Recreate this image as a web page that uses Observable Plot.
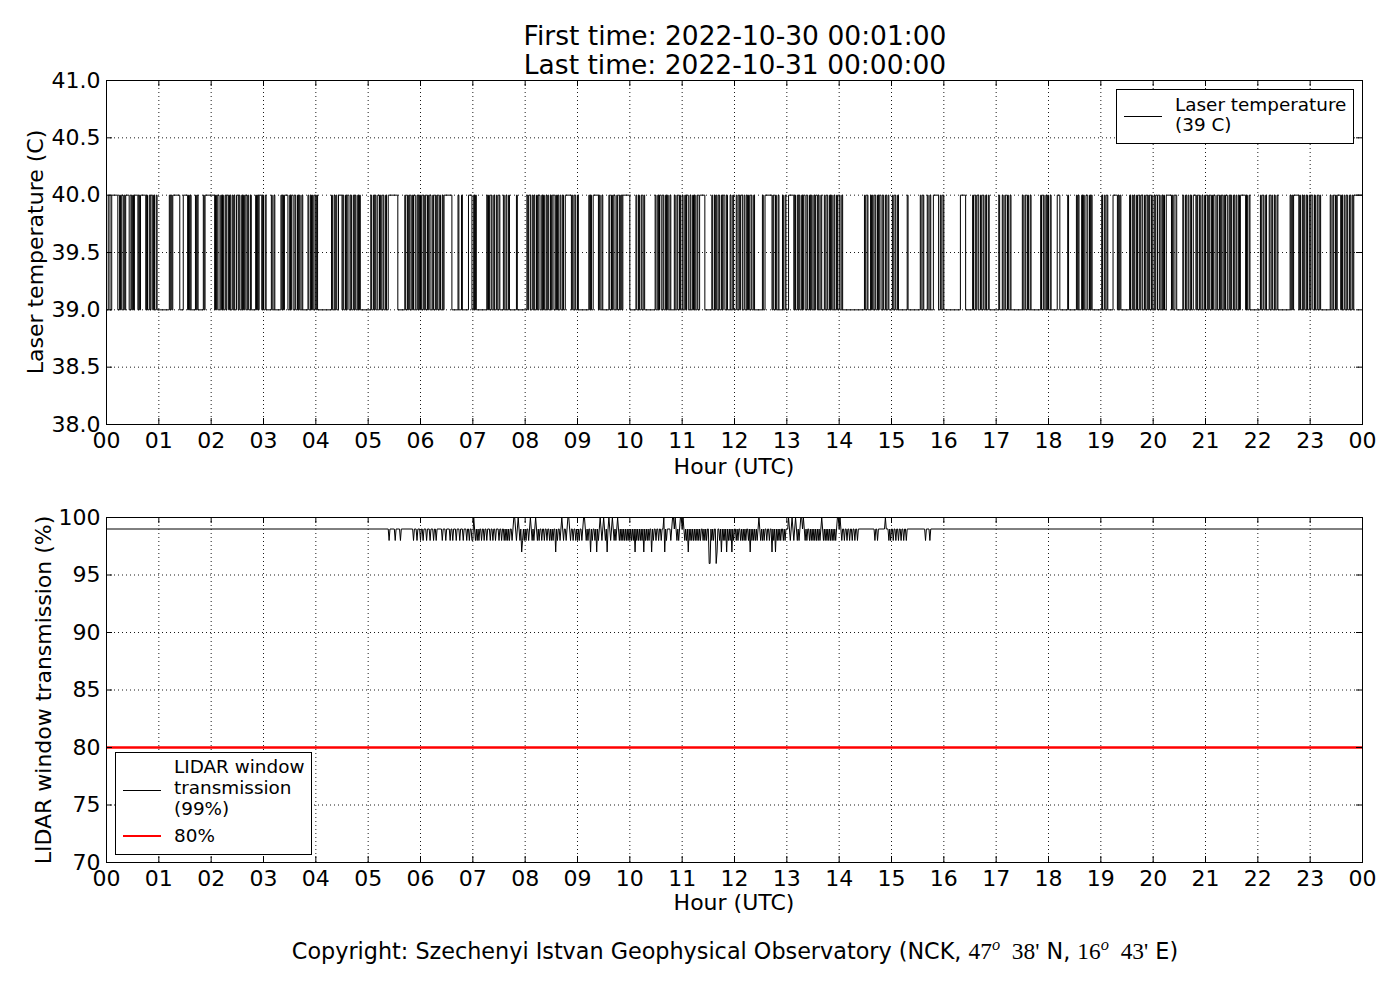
<!DOCTYPE html>
<html>
<head>
<meta charset="utf-8">
<script src="https://cdn.jsdelivr.net/npm/d3@7"></script>
<script src="https://cdn.jsdelivr.net/npm/@observablehq/plot@0.6"></script>
<style>
  body { margin: 0; background: #fff; font-family: "DejaVu Sans", sans-serif; color: #000; }
  #page { position: relative; width: 1400px; height: 1000px; overflow: hidden; background: #fff; }
  .plot { position: absolute; left: 0; }
  .c { position: absolute; white-space: nowrap; transform: translate(-50%, -50%); }
  .rot { transform: translate(-50%, -50%) rotate(-90deg); }
  .legend { position: absolute; border: 1px solid #000; background: #fff; box-sizing: border-box; font-size: 18.4px; }
  .legend .t { position: absolute; white-space: nowrap; line-height: 20px; transform: translateY(-50%); }
  .legend .s { position: absolute; height: 0; }
  .m { font-family: "Liberation Serif", "DejaVu Serif", serif; font-size: 1.05em; }
  .m sup { font-style: italic; font-size: 0.7em; }
</style>
</head>
<body>
<div id="page">
  <div id="top" class="plot" style="top:0px"></div>
  <div id="bottom" class="plot" style="top:480px"></div>
</div>
<script>
// ---------------- DATA ----------------
const firstTime = "2022-10-30 00:01:00";
const lastTime = "2022-10-31 00:00:00";
const hourTicks = [0,1,2,3,4,5,6,7,8,9,10,11,12,13,14,15,16,17,18,19,20,21,22,23,24];
const hourLabels = ["00","01","02","03","04","05","06","07","08","09","10","11","12","13","14","15","16","17","18","19","20","21","22","23","00"];
const tempTicks = [38, 38.5, 39, 39.5, 40, 40.5, 41];
const lidarTicks = [70, 75, 80, 85, 90, 95, 100];
const tempLow = 39, tempHigh = 40;     // the two levels the laser temperature toggles between
const lidarBase = 99;                  // usual LIDAR window transmission
const lidarThreshold = 80;             // red reference line

// Laser temperature: minute intervals [start, end] (minutes after 00:00) at 40 C; 39 C elsewhere
const tempHigh00to06 = [[2,4],[6,13],[15,16],[17,19],[20,21],[22,26],[28,29],[30,31],[32,36],[37,38],[39,45],
  [46,47],[49,50],[51,53],[54,55],[57,58],
  [72,73],[74,75],[76,84],[88,93],[94,95],[96,97],[102,103],[104,105],[111,112],[113,124],
  [125,126],[127,129],[131,132],[133,134],[136,137],[138,140],[141,142],[144,145],[146,147],[149,151],
  [152,153],[155,156],[157,158],[159,161],[162,163],[165,166],
  [171,172],[173,174],[175,178],[179,180],[182,183],[189,190],[192,193],
  [200,201],[202,203],[204,208],[210,211],[212,214],[216,217],[219,220],[221,222],[224,225],
  [231,232],[234,235],[236,237],[239,240],[241,242],
  [258,259],[261,262],[263,264],[266,270],[271,272],[274,275],[276,278],[280,281],[283,284],[285,286],
  [288,289],[290,291],
  [303,304],[306,307],[308,309],[311,313],[314,315],[317,318],[320,321],[323,334],
  [342,343],[345,346],[347,348],[350,351],[352,354],[356,357],[358,359]];
const tempHigh06to12 = [[360,361],[363,364],[365,366],[368,369],[370,372],[374,375],[377,378],[379,380],
  [382,383],[385,386],[387,396],[403,404],[407,408],[415,419],[421,422],[423,424],
  [436,437],[438,439],[441,442],[444,445],[447,448],[450,451],[455,456],[458,459],[461,462],[470,471],
  [482,483],[484,486],[488,489],[490,491],[493,494],[495,497],[499,500],[501,502],[504,505],[506,507],
  [509,510],[511,513],[515,516],[517,518],[520,521],[523,524],
  [526,533],[534,535],[537,538],[540,541],[553,554],[555,556],[558,564],[565,566],[568,569],
  [576,577],[579,580],[581,583],[585,586],[588,589],[590,591],[592,600],
  [607,608],[610,611],[613,614],[616,617],
  [629,630],[632,633],[634,636],[638,639],[641,642],[643,644],[646,647],
  [651,652],[654,655],[657,658],[660,661],[663,664],[665,667],[669,670],[672,673],[674,675],[677,678],[680,686],
  [694,695],[697,698],[699,700],[702,703],[705,706],[707,709],[711,712],
  [715,716],[718,719]];
const tempHigh12to18 = [[722,723],[725,726],[727,729],[731,732],[734,735],[736,737],[739,740],[742,743],
  [752,753],[755,763],[764,765],[767,768],[770,771],[775,776],[778,779],[782,788],
  [789,790],[792,793],[794,795],[797,798],[799,801],[803,804],[806,807],[808,809],[811,812],[813,815],
  [816,817],[819,820],[823,824],[826,827],[829,830],[831,832],
  [834,835],[837,838],[840,841],[843,844],
  [869,870],[872,873],[876,877],[878,879],[881,882],[884,885],[886,888],[890,891],[893,894],[896,897],
  [901,902],[904,905],[907,908],[918,919],
  [933,934],[936,937],[941,942],[944,945],[948,954],[956,957],[959,960],
  [979,985],[993,994],[996,997],[998,1000],[1002,1003],[1005,1006],[1008,1009],[1011,1012],[1023,1024],
  [1027,1028],[1030,1031],[1033,1034],[1036,1037],
  [1050,1051],[1053,1054],[1056,1057],[1059,1060],
  [1071,1072],[1074,1075],[1077,1078]];
const tempHigh18to24 = [[1079,1080],[1082,1083],[1090,1093],[1102,1103],[1112,1113],[1114,1115],
  [1118,1119],[1120,1121],[1123,1125],[1127,1128],[1129,1130],
  [1141,1142],[1144,1145],[1147,1148],[1154,1159],[1160,1161],[1162,1163],
  [1173,1174],[1176,1177],[1178,1179],[1181,1182],[1184,1185],[1186,1188],[1190,1191],[1193,1194],
  [1195,1196],[1198,1199],[1201,1202],[1203,1205],[1207,1208],[1210,1211],[1212,1213],[1215,1221],
  [1222,1223],[1225,1227],
  [1234,1235],[1237,1238],[1240,1241],[1243,1244],[1246,1249],[1250,1251],[1253,1254],[1256,1257],
  [1259,1260],[1262,1263],[1264,1265],[1267,1268],[1269,1271],[1273,1274],[1276,1277],[1278,1279],
  [1281,1282],[1283,1285],[1287,1288],[1289,1290],
  [1292,1293],[1295,1296],[1298,1299],[1300,1306],[1307,1308],[1310,1311],
  [1323,1324],[1326,1327],[1329,1330],[1333,1334],[1336,1337],[1339,1340],[1342,1343],
  [1357,1358],[1359,1360],[1361,1367],
  [1368,1369],[1371,1372],[1373,1374],[1376,1377],[1379,1380],[1381,1383],[1385,1386],[1388,1389],[1391,1392],
  [1403,1404],[1406,1407],[1409,1410],[1411,1415],[1416,1417],[1419,1420],[1422,1423],[1425,1426],
  [1428,1429],[1430,1440]];

// LIDAR window transmission: [minute, value] samples that differ from 99 %
const lidarDev05to10 = [[324,98],[331,98],[337,98],[352,98],[356,98],[360,98],[363,98],[367,98],[371,98],
  [375,98],[378,98],[385,98],[389,98],[394,98],[397,98],[401,98],[405,98],[409,98],[413,98],[416,98],
  [419,98],[420,98],[421,100],[423,98],[425,98],[427,98],[430,98],[433,98],[436,98],[440,98],[443,98],
  [446,98],[450,98],[453,98],[456,98],[458,98],[460,98],[462,98],[465,98],[467,100],[468,100],[470,98],
  [472,100],[474,98],[476,97],[477,98],[479,98],[481,98],[484,98],[486,100],[488,98],[490,98],[492,100],
  [494,98],[496,98],[499,98],[502,98],[505,98],[508,98],[510,98],[512,98],[515,97],[517,98],[520,98],
  [522,100],[524,98],[527,98],[529,100],[530,100],[532,98],[535,98],[538,98],[540,98],[542,98],[545,98],
  [547,100],[548,100],[550,98],[552,98],[555,97],[557,98],[560,98],[562,97],[564,98],[566,100],[568,98],
  [570,100],[572,98],[574,97],[576,100],[578,98],[580,100],[582,98],[584,98],[586,100],[588,98],[590,98],
  [592,98],[594,98],[596,98],[598,98]];
const lidarDev10to16 = [[600,98],[602,98],[604,98],[606,97],[608,98],[610,98],[612,98],[614,98],[616,97],
  [618,98],[620,98],[622,98],[625,97],[627,98],[630,98],[633,98],[636,98],[639,100],[640,97],[642,98],
  [647,98],[649,100],[650,100],[652,100],[654,98],[656,98],[658,100],[659,100],[661,100],[663,98],
  [665,98],[667,97],[669,98],[671,98],[673,98],[675,98],[677,98],[679,98],[681,98],[684,98],[686,98],
  [688,98],[691,96],[692,96],[694,98],[696,98],[699,96],[700,97],[703,98],[705,97],[707,98],[709,98],
  [711,97],[713,98],[715,98],[717,97],[719,98],[722,98],[724,98],[727,98],[729,98],[731,98],[733,98],
  [736,98],[738,97],[740,98],[742,98],[744,98],[746,98],[748,100],[750,98],[752,98],[754,98],[757,98],
  [760,98],[763,97],[765,98],[767,97],[769,98],[771,98],[773,98],[776,98],[778,98],[782,100],[784,98],
  [786,100],[788,98],[790,100],[792,98],[794,98],[796,100],[797,100],[799,100],[801,98],[803,98],
  [806,98],[808,98],[810,98],[812,98],[814,98],[816,98],[818,98],[820,100],[822,98],[824,98],[826,98],
  [828,98],[830,98],[832,98],[834,98],[836,98],[838,100],[839,100],[841,100],[843,98],[846,98],[849,98],
  [852,98],[855,98],[858,98],[861,98],[881,98],[884,98],[893,100],[897,98],[899,98],[902,98],[905,98],
  [908,98],[911,98],[914,98],[917,98],[939,98],[944,98]];

// ---------------- DECODE ----------------
const firstMinute = 1, lastMinute = 1440;
const highs = [...tempHigh00to06, ...tempHigh06to12, ...tempHigh12to18, ...tempHigh18to24].sort((a,b)=>a[0]-b[0]);
const tempPts = [{t: firstMinute, v: tempLow}];
for (const [a, b] of highs) { tempPts.push({t: a, v: tempHigh}); tempPts.push({t: b, v: tempLow}); }
if (tempPts[tempPts.length-1].t < lastMinute) tempPts.push({t: lastMinute, v: tempLow});

const devs = [...lidarDev05to10, ...lidarDev10to16].sort((a,b)=>a[0]-b[0]);
const lidarPts = [{t: firstMinute, v: lidarBase}];
devs.forEach(([m, v], i) => {
  const last = lidarPts[lidarPts.length-1];
  if (last.t < m - 1) lidarPts.push({t: m - 1, v: lidarBase});
  lidarPts.push({t: m, v});
  const nx = devs[i+1];
  if (!nx || nx[0] > m + 1) lidarPts.push({t: m + 1, v: lidarBase});
});
lidarPts.push({t: lastMinute, v: lidarBase});

// ---------------- PLOTS ----------------
const W = 1400, ML = 106, MR = 38;
function panel({height, marginTop, marginBottom, yDomain, yTicks, yFmt, marks}) {
  const fw = W - ML - MR, fh = height - marginTop - marginBottom;
  return Plot.plot({
    width: W, height, marginLeft: ML, marginRight: MR, marginTop, marginBottom,
    style: {fontFamily: '"DejaVu Sans", sans-serif', fontSize: "22px", color: "black", background: "white", overflow: "visible"},
    x: {domain: [0, 24], ticks: hourTicks, tickFormat: d => hourLabels[d], tickSize: 0, tickPadding: 8, label: null},
    y: {domain: yDomain, ticks: yTicks, tickFormat: yFmt, tickSize: 0, tickPadding: 6, label: null},
    marks: [
      Plot.ruleX(hourTicks, {x: d => d, stroke: "#000", strokeWidth: 0.9, strokeDasharray: "1,3"}),
      Plot.ruleY(yTicks, {y: d => d, stroke: "#000", strokeWidth: 0.9, strokeDasharray: "1,3"}),
      ...marks,
      Plot.tickX(hourTicks, {x: d => d, insetBottom: fh - 6, stroke: "#000"}),
      Plot.tickX(hourTicks, {x: d => d, insetTop: fh - 6, stroke: "#000"}),
      Plot.tickY(yTicks, {y: d => d, insetRight: fw - 6, stroke: "#000"}),
      Plot.tickY(yTicks, {y: d => d, insetLeft: fw - 6, stroke: "#000"}),
      Plot.frame({stroke: "#000"})
    ]
  });
}

const topPlot = panel({
  height: 480, marginTop: 80, marginBottom: 56,
  yDomain: [38, 41], yTicks: tempTicks, yFmt: d3.format(".1f"),
  marks: [Plot.line(tempPts, {x: d => d.t / 60, y: d => d.v, curve: "step-after", stroke: "#000", strokeWidth: 1})]
});
document.getElementById("top").appendChild(topPlot);

const bottomPlot = panel({
  height: 440, marginTop: 37, marginBottom: 58,
  yDomain: [70, 100], yTicks: lidarTicks, yFmt: d => String(d),
  marks: [
    Plot.line(lidarPts, {x: d => d.t / 60, y: d => d.v, stroke: "#000", strokeWidth: 1}),
    Plot.ruleY([lidarThreshold], {y: d => d, stroke: "#ff0000", strokeWidth: 2.5})
  ]
});
document.getElementById("bottom").appendChild(bottomPlot);

// ---------------- TEXT ----------------
const page = document.getElementById("page");
function label(html, x, y, size, cls = "") {
  const d = document.createElement("div");
  d.className = "c " + cls;
  d.style.left = x + "px"; d.style.top = y + "px"; d.style.fontSize = size + "px";
  d.innerHTML = html;
  page.appendChild(d);
  return d;
}
label("First time: " + firstTime, 735, 35, 26.5);
label("Last time: " + lastTime, 735, 64, 26.5);
label("Laser temperature (C)", 35, 252, 22, "rot");
label("Hour (UTC)", 734, 466, 22);
label("LIDAR window transmission (%)", 43, 690, 22, "rot");
label("Hour (UTC)", 734, 902, 22);
label('Copyright: Szechenyi Istvan Geophysical Observatory (NCK, <span class="m">47<sup>o</sup>&nbsp;&nbsp;38\'</span> N, <span class="m">16<sup>o</sup>&nbsp;&nbsp;43\'</span> E)', 735, 950, 22.3);

function legend(box, items) {
  const b = document.createElement("div");
  b.className = "legend";
  Object.assign(b.style, {left: box.x + "px", top: box.y + "px", width: box.w + "px", height: box.h + "px"});
  for (const it of items) {
    if (it.sample) {
      const s = document.createElement("div");
      s.className = "s";
      Object.assign(s.style, {left: "7px", width: "38px", top: (it.sy - it.sw / 2) + "px", borderTop: it.sw + "px solid " + it.color});
      b.appendChild(s);
    }
    const t = document.createElement("div");
    t.className = "t";
    t.style.left = "58px"; t.style.top = it.ty + "px";
    t.textContent = it.text;
    b.appendChild(t);
  }
  page.appendChild(b);
}
legend({x: 1116, y: 89, w: 238, h: 55}, [
  {text: "Laser temperature", ty: 15, sample: true, sy: 26, sw: 1, color: "#000"},
  {text: "(39 C)", ty: 35}
]);
legend({x: 115, y: 752, w: 197, h: 103}, [
  {text: "LIDAR window", ty: 14},
  {text: "transmission", ty: 35, sample: true, sy: 37, sw: 1, color: "#000"},
  {text: "(99%)", ty: 56},
  {text: "80%", ty: 83, sample: true, sy: 83, sw: 2.5, color: "#ff0000"}
]);
</script>
</body>
</html>
